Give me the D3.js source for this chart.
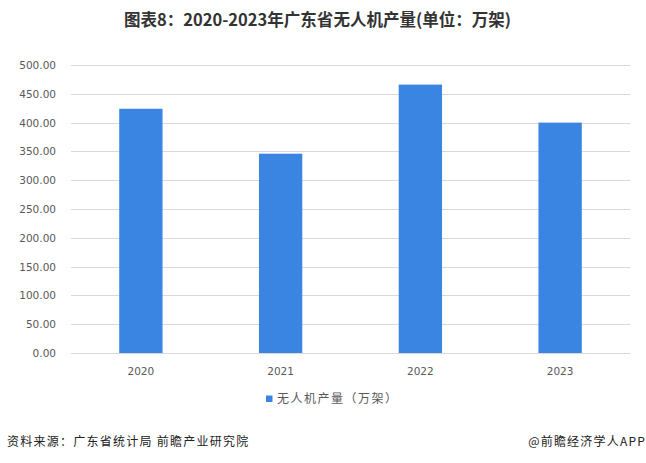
<!DOCTYPE html>
<html><head><meta charset="utf-8">
<script src="https://cdn.jsdelivr.net/npm/d3@7"></script>
<style>body{margin:0;background:#fff;}svg{display:block;}</style>
</head><body>
<svg id="c" width="646" height="463"></svg>
<script>
const categories = ["2020","2021","2022","2023"];
const values = [424, 346, 466, 400];
const yTicks = [0,50,100,150,200,250,300,350,400,450,500];
const title = "图表8：2020-2023年广东省无人机产量(单位：万架)";
const legendLabel = "无人机产量（万架）";
const source = "资料来源：广东省统计局 前瞻产业研究院";
const brand = "@前瞻经济学人APP";

const svg = d3.select("#c");
const font = "'Noto Sans CJK SC','Noto Sans',sans-serif";
const x = d3.scaleBand().domain(categories).range([71, 630]).paddingInner(0.69).paddingOuter(0.345);
const y = d3.scaleLinear().domain([0,500]).range([353, 65]);

svg.append("text").attr("x",124).attr("y",26)
  .attr("font-family",font).attr("font-weight","bold").attr("font-size",16.5).attr("fill","#333")
  .attr("textLength",387).attr("lengthAdjust","spacingAndGlyphs")
  .text(title);

const g = svg.append("g");
g.selectAll("line.grid").data(yTicks).join("line").attr("class","grid")
  .attr("x1",71).attr("x2",630).attr("y1",d=>Math.round(y(d))+0.5).attr("y2",d=>Math.round(y(d))+0.5)
  .attr("stroke","#d9d9d9").attr("stroke-width",1);
g.selectAll("text.yt").data(yTicks).join("text").attr("class","yt")
  .attr("x",56).attr("y",d=>y(d)+4).attr("text-anchor","end")
  .attr("font-family","'DejaVu Sans',sans-serif").attr("font-size",10.5).attr("fill","#595959")
  .text(d=>d3.format(".2f")(d));

g.selectAll("rect.bar").data(values).join("rect").attr("class","bar")
  .attr("x",(d,i)=>x(categories[i])).attr("width",x.bandwidth())
  .attr("y",d=>y(d)).attr("height",d=>y(0)-y(d)).attr("fill","#3a84e2");

g.selectAll("text.xt").data(categories).join("text").attr("class","xt")
  .attr("x",d=>x(d)+x.bandwidth()/2).attr("y",375).attr("text-anchor","middle")
  .attr("font-family","'DejaVu Sans',sans-serif").attr("font-size",10.5).attr("fill","#595959")
  .text(d=>d);

svg.append("rect").attr("x",266).attr("y",395.5).attr("width",6.5).attr("height",6.5).attr("fill","#3a84e2");
svg.append("text").attr("x",277).attr("y",402.5).attr("font-family",font).attr("font-size",12).attr("fill","#595959")
  .attr("letter-spacing",1.5).text(legendLabel);

svg.append("text").attr("x",7).attr("y",446).attr("font-family",font).attr("font-size",12).attr("fill","#222")
  .attr("letter-spacing",1.25).text(source);
svg.append("text").attr("x",646).attr("y",446).attr("text-anchor","end").attr("font-family",font).attr("font-size",12).attr("fill","#222")
  .attr("letter-spacing",1.2).text(brand);
</script>
</body></html>
